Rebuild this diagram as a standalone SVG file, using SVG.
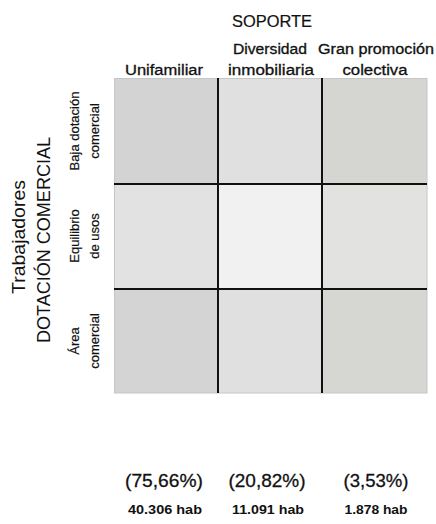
<svg xmlns="http://www.w3.org/2000/svg" width="436" height="524" viewBox="0 0 436 524">
<style>
text{font-family:"Liberation Sans",Arial,sans-serif;fill:#111;text-anchor:middle}
.hdr{font-size:14px;stroke:#111;stroke-width:0.3}
.ttl{font-size:17px;stroke:#111;stroke-width:0.2}
.axis{font-size:18px}
.row{font-size:13px;stroke:#111;stroke-width:0.2}
.pct{font-size:19px;stroke:#111;stroke-width:0.3}
.hab{font-size:13px;font-weight:bold}
.grid{stroke:#111;stroke-width:2;fill:none}
</style>
<rect width="436" height="524" fill="#ffffff"/>
<g id="titles">
<text class="ttl" x="272" y="27" textLength="80" lengthAdjust="spacingAndGlyphs">SOPORTE</text>
<text class="hdr" x="164" y="75" textLength="78" lengthAdjust="spacingAndGlyphs">Unifamiliar</text>
<text class="hdr" x="270" y="54" textLength="74" lengthAdjust="spacingAndGlyphs">Diversidad</text>
<text class="hdr" x="271" y="75" textLength="86" lengthAdjust="spacingAndGlyphs">inmobiliaria</text>
<text class="hdr" x="376" y="54" textLength="116" lengthAdjust="spacingAndGlyphs">Gran promoción</text>
<text class="hdr" x="375" y="75" textLength="65" lengthAdjust="spacingAndGlyphs">colectiva</text>
<text class="axis" transform="translate(25,237) rotate(-90)" textLength="114" lengthAdjust="spacingAndGlyphs">Trabajadores</text>
<text class="axis" transform="translate(50,240) rotate(-90)" textLength="206" lengthAdjust="spacingAndGlyphs">DOTACIÓN COMERCIAL</text>
</g>
<g id="row-labels">
<text class="row" transform="translate(79,131) rotate(-90)">Baja dotación</text>
<text class="row" transform="translate(99,131) rotate(-90)">comercial</text>
<text class="row" transform="translate(79,236) rotate(-90)">Equilibrio</text>
<text class="row" transform="translate(99,236) rotate(-90)">de usos</text>
<text class="row" transform="translate(79,341) rotate(-90)">Área</text>
<text class="row" transform="translate(99,341) rotate(-90)">comercial</text>
</g>
<g id="cells">
<rect id="c11" x="114" y="78" width="104" height="106" fill="#d3d3d3"/>
<rect id="c12" x="218" y="78" width="104" height="106" fill="#e0e0e0"/>
<rect id="c13" x="322" y="78" width="105" height="106" fill="#d5d5d1"/>
<rect id="c21" x="114" y="184" width="104" height="105" fill="#e2e2e2"/>
<rect id="c22" x="218" y="184" width="104" height="105" fill="#f1f1f1"/>
<rect id="c23" x="322" y="184" width="105" height="105" fill="#e2e2e1"/>
<rect id="c31" x="114" y="289" width="104" height="104" fill="#d4d4d4"/>
<rect id="c32" x="218" y="289" width="104" height="104" fill="#e0e0e0"/>
<rect id="c33" x="322" y="289" width="105" height="104" fill="#d6d6d2"/>
<rect x="114.5" y="78.5" width="312.5" height="314.5" fill="none" stroke="#c6c6c6" stroke-width="1"/>
</g>
<g id="connectors">
<line class="grid" x1="218" y1="78" x2="218" y2="393"/>
<line class="grid" x1="322" y1="78" x2="322" y2="393"/>
<line class="grid" x1="114" y1="184" x2="427" y2="184"/>
<line class="grid" x1="114" y1="289" x2="427" y2="289"/>
</g>
<g id="totals">
<text class="pct" x="164" y="487" textLength="78" lengthAdjust="spacingAndGlyphs">(75,66%)</text>
<text class="pct" x="267" y="487" textLength="77" lengthAdjust="spacingAndGlyphs">(20,82%)</text>
<text class="pct" x="376" y="487" textLength="65" lengthAdjust="spacingAndGlyphs">(3,53%)</text>
<text class="hab" x="165" y="514" textLength="74" lengthAdjust="spacingAndGlyphs">40.306 hab</text>
<text class="hab" x="268" y="514" textLength="72" lengthAdjust="spacingAndGlyphs">11.091 hab</text>
<text class="hab" x="376" y="514" textLength="63" lengthAdjust="spacingAndGlyphs">1.878 hab</text>
</g>
</svg>
